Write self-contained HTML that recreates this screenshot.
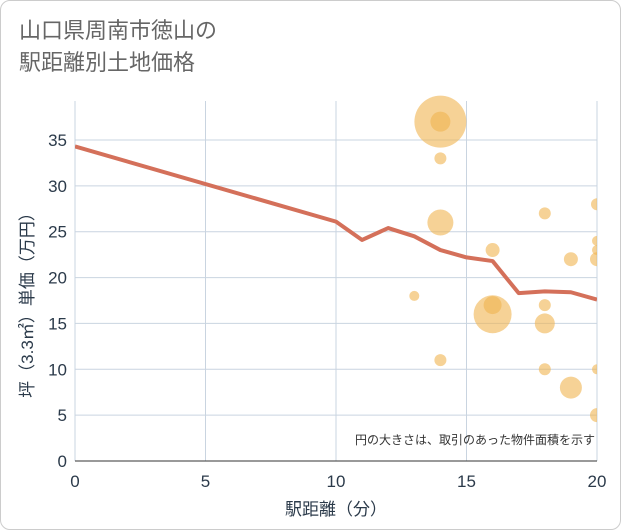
<!DOCTYPE html>
<html><head><meta charset="utf-8"><style>
body{margin:0;background:#fff;}
#wrap{width:619px;height:528px;border:1px solid #ccc;border-radius:10px;position:relative;overflow:hidden;background:#fff;font-family:"Liberation Sans","Noto Sans CJK JP",sans-serif;}
.title{position:absolute;left:18px;top:14px;font-size:22px;line-height:32px;color:#666;}
</style></head><body>
<div id="wrap">
<div class="title">山口県周南市徳山の<br>駅距離別土地価格</div>
<svg id="chart" width="621" height="530" style="position:absolute;left:0;top:0"><defs><clipPath id="pc"><rect x="74" y="90" width="522" height="370"/></clipPath></defs></svg>
</div>
<script>
const xTicks=[0,5,10,15,20];
const yTicks=[0,5,10,15,20,25,30,35];
const lineX=[0,10,11,12,13,14,15,16,17,18,19,20];
const lineY=[34.3,26.1,24.1,25.4,24.5,23,22.2,21.8,18.3,18.5,18.4,17.6];
const bubX=[14,14,14,14,13,14,16,16,16,18,18,18,18,19,19,20,20,20,20,20,20];
const bubY=[37,37,33,26,18,11,23,17,16,27,17,15,10,22,8,28,24,23,22,10,5];
const bubR=[26,10,6,13,5,6,7,9,19,6,6,10,6,7,11,6,5,5,7,5,7];
const L=74,R=596,T=100,B=460;
const sx=v=>L+(R-L)*v/20, sy=v=>B-(B-139)*v/35;
const svg=document.getElementById('chart');const NS='http://www.w3.org/2000/svg';
function mk(t,a,p){const e=document.createElementNS(NS,t);for(const k in a)e.setAttribute(k,a[k]);(p||svg).appendChild(e);return e;}
const TC='#2b3a4a';
xTicks.forEach(v=>{const g=mk('line',{x1:sx(v),x2:sx(v),y1:T,y2:B,stroke:'#c9d4e0','stroke-width':1});

const t=mk('text',{x:sx(v),y:486,'text-anchor':'middle','font-size':17,fill:TC});t.textContent=v;
});
yTicks.forEach(v=>{const g=mk('line',{x1:L,x2:R,y1:sy(v),y2:sy(v),stroke:'#c9d4e0','stroke-width':1});

const t=mk('text',{x:66,y:sy(v)+6,'text-anchor':'end','font-size':17,fill:TC});t.textContent=v;
});
const pg=mk('g',{'clip-path':'url(#pc)'});

bubX.forEach((x,i)=>{const c=mk('circle',{cx:sx(x),cy:sy(bubY[i]),r:bubR[i],fill:'rgba(240,180,80,0.6)'},pg);
});
const pl=mk('polyline',{points:lineX.map((x,i)=>sx(x)+','+sy(lineY[i])).join(' '),fill:'none',stroke:'#d4705a','stroke-width':4,'stroke-linejoin':'round'},pg);

const ax=mk('line',{x1:L,x2:R,y1:B,y2:B,stroke:'#333','stroke-width':1});

const xt=mk('text',{x:335,y:514,'text-anchor':'middle','font-size':17,fill:TC});xt.textContent='駅距離（分）';

const yt=mk('text',{x:0,y:0,'text-anchor':'middle','font-size':17,fill:TC,transform:'translate(32,300) rotate(-90)'});yt.textContent='坪（3.3㎡）単価（万円）';

const nt=mk('text',{x:594,y:443,'text-anchor':'end','font-size':12,fill:'#333'});nt.textContent='円の大きさは、取引のあった物件面積を示す';

</script>
</body></html>
